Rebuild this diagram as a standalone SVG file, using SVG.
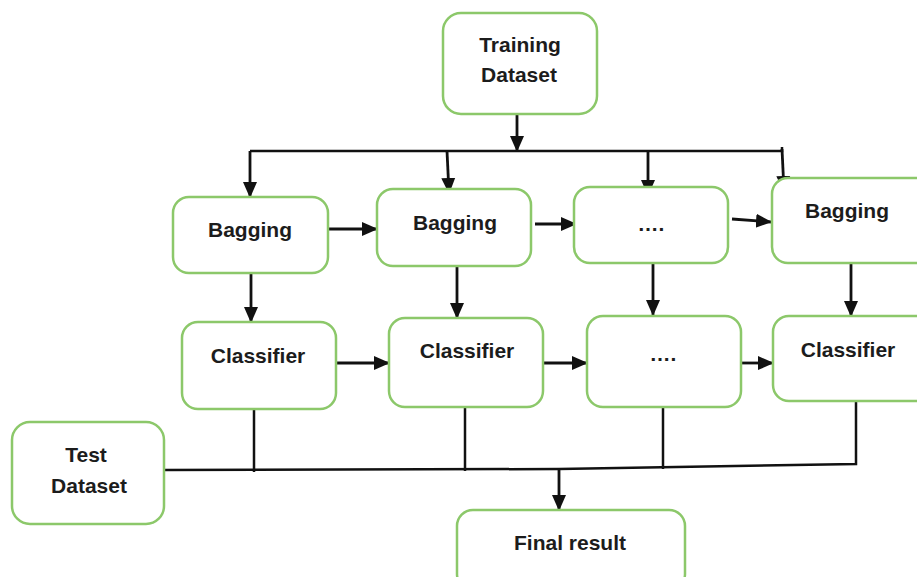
<svg xmlns="http://www.w3.org/2000/svg" width="917" height="577" viewBox="0 0 917 577">
<style>
.box{fill:#fff;stroke:#8cc86a;stroke-width:2.5}
.lbl{font-family:"Liberation Sans",Arial,sans-serif;font-weight:bold;font-size:21px;fill:#1c1c1c;text-anchor:middle}
.ln{fill:none;stroke:#111;stroke-width:2.5}
.ar{fill:none;stroke:#111;stroke-width:2.8;marker-end:url(#ah)}
</style>
<defs>
<marker id="ah" markerUnits="userSpaceOnUse" markerWidth="16" markerHeight="16" viewBox="0 0 16 16" refX="15" refY="8" orient="auto">
<path d="M0,1 L16,8 L0,15 Z" fill="#111"/>
</marker>
</defs>
<rect width="917" height="577" fill="#fff"/>
<g id="connectors">
<line class="ar" x1="517" y1="114" x2="517" y2="151"/>
<polyline class="ln" points="250,151 782,151 782,147"/>
<line class="ar" x1="250" y1="151" x2="250" y2="197"/>
<line class="ar" x1="447" y1="151" x2="449" y2="193"/>
<line class="ar" x1="648" y1="151" x2="648" y2="195"/>
<line class="ar" x1="782" y1="149" x2="784" y2="191"/>
<line class="ar" x1="328" y1="229" x2="377" y2="229"/>
<line class="ar" x1="535" y1="224" x2="576" y2="224"/>
<line class="ar" x1="732" y1="219" x2="771" y2="222"/>
<line class="ar" x1="251" y1="273" x2="251" y2="322"/>
<line class="ar" x1="457" y1="266" x2="457" y2="318"/>
<line class="ar" x1="653" y1="263" x2="653" y2="315"/>
<line class="ar" x1="851" y1="263" x2="851" y2="316"/>
<line class="ar" x1="336" y1="363" x2="389" y2="363"/>
<line class="ar" x1="543" y1="363" x2="587" y2="363"/>
<line class="ar" x1="741" y1="363" x2="773" y2="363"/>
<polyline class="ln" points="164,470 559,469 856,464 856,401"/>
<line class="ln" x1="254" y1="409" x2="254" y2="472"/>
<line class="ln" x1="465" y1="407" x2="465" y2="471"/>
<line class="ln" x1="663" y1="407" x2="663" y2="469"/>
<line class="ar" x1="559" y1="469" x2="559" y2="510"/>
</g>
<g id="training">
<rect class="box" x="443" y="13" width="154" height="101" rx="18"/>
<text class="lbl" x="520" y="52">Training</text>
<text class="lbl" x="519" y="82">Dataset</text>
</g>
<g id="bagging1">
<rect class="box" x="173" y="197" width="155" height="76" rx="16"/>
<text class="lbl" x="250" y="237">Bagging</text>
</g>
<g id="bagging2">
<rect class="box" x="377" y="189" width="154" height="77" rx="16"/>
<text class="lbl" x="455" y="230">Bagging</text>
</g>
<g id="bagging3">
<rect class="box" x="574" y="187" width="154" height="76" rx="16"/>
<text class="lbl" x="651" y="231">….</text>
</g>
<g id="bagging4">
<rect class="box" x="772" y="178" width="160" height="85" rx="16"/>
<text class="lbl" x="847" y="218">Bagging</text>
</g>
<g id="classifier1">
<rect class="box" x="182" y="322" width="154" height="87" rx="16"/>
<text class="lbl" x="258" y="363">Classifier</text>
</g>
<g id="classifier2">
<rect class="box" x="389" y="318" width="154" height="89" rx="16"/>
<text class="lbl" x="467" y="358">Classifier</text>
</g>
<g id="classifier3">
<rect class="box" x="587" y="316" width="154" height="91" rx="16"/>
<text class="lbl" x="663" y="361">….</text>
</g>
<g id="classifier4">
<rect class="box" x="773" y="316" width="160" height="85" rx="16"/>
<text class="lbl" x="848" y="357">Classifier</text>
</g>
<g id="test">
<rect class="box" x="12" y="422" width="152" height="102" rx="18"/>
<text class="lbl" x="86" y="462">Test</text>
<text class="lbl" x="89" y="493">Dataset</text>
</g>
<g id="final">
<rect class="box" x="457" y="510" width="228" height="80" rx="16"/>
<text class="lbl" x="570" y="550">Final result</text>
</g>
</svg>
